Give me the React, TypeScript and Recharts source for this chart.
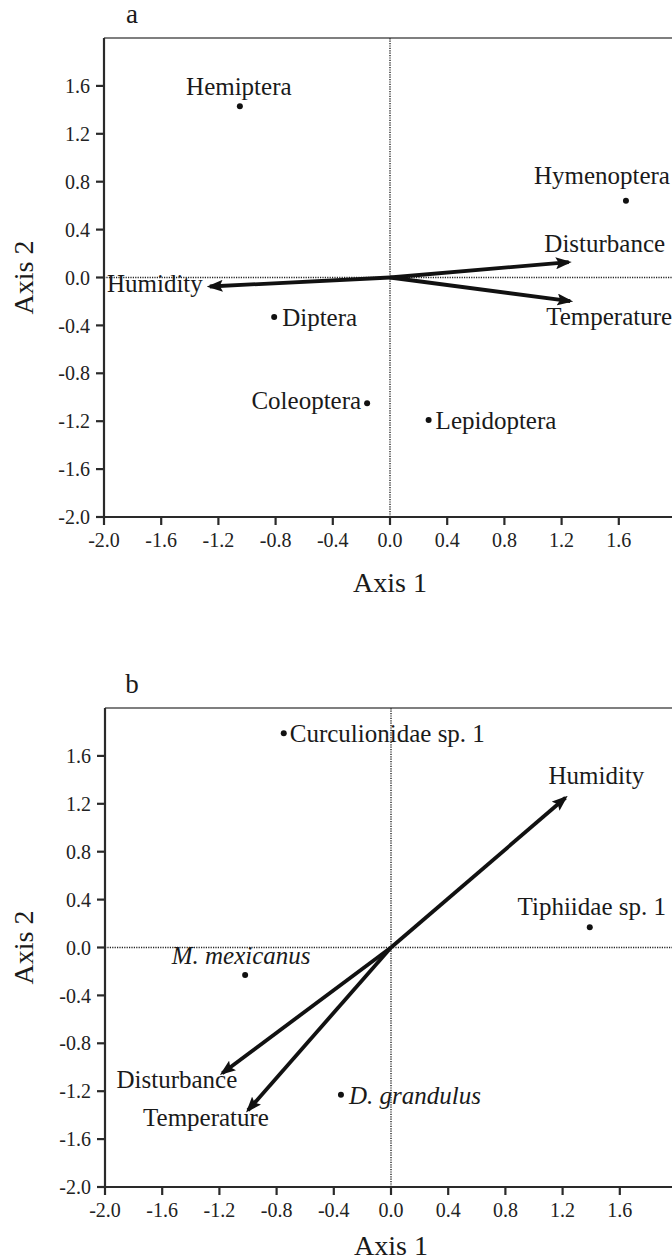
import React from 'react';
import {
  ScatterChart,
  Scatter,
  XAxis,
  YAxis,
  ReferenceLine,
  Label,
} from 'recharts';

// panel a: orders
const speciesNamesA = ['Hemiptera', 'Hymenoptera', 'Diptera', 'Coleoptera', 'Lepidoptera'];
const speciesXA = [-1.05, 1.65, -0.81, -0.16, 0.27];
const speciesYA = [1.43, 0.64, -0.33, -1.05, -1.19];

const arrowNamesA = ['Humidity', 'Disturbance', 'Temperature'];
const arrowXA = [-1.26, 1.25, 1.26];
const arrowYA = [-0.075, 0.128, -0.198];

// panel b: species
const speciesNamesB = ['Curculionidae sp. 1', 'Tiphiidae sp. 1', 'M. mexicanus', 'D. grandulus'];
const speciesXB = [-0.75, 1.39, -1.02, -0.35];
const speciesYB = [1.79, 0.17, -0.23, -1.23];

const arrowNamesB = ['Humidity', 'Disturbance', 'Temperature'];
const arrowXB = [1.22, -1.18, -1.0];
const arrowYB = [1.25, -1.05, -1.36];

const axisTicks = [-2.0, -1.6, -1.2, -0.8, -0.4, 0.0, 0.4, 0.8, 1.2, 1.6];
const italicNames = new Set(['M. mexicanus', 'D. grandulus']);

const font = "'Liberation Serif', 'Times New Roman', serif";
const ink = '#1a1a1a';

type Pt = { name: string; x: number; y: number };
type Place = { anchor: 'start' | 'middle' | 'end'; dx: number; dy: number };

const toPoints = (names: string[], xs: number[], ys: number[]): Pt[] =>
  names.map((name, i) => ({ name, x: xs[i], y: ys[i] }));

// label placement relative to the point / arrow tip
const placeA: Record<string, Place> = {
  Hemiptera: { anchor: 'middle', dx: -1, dy: -11 },
  Hymenoptera: { anchor: 'end', dx: 44, dy: -17 },
  Diptera: { anchor: 'start', dx: 8, dy: 9 },
  Coleoptera: { anchor: 'end', dx: -6, dy: 6 },
  Lepidoptera: { anchor: 'start', dx: 7, dy: 9 },
};
const arrowPlaceA: Record<string, Place> = {
  Humidity: { anchor: 'end', dx: -7, dy: 6 },
  Disturbance: { anchor: 'middle', dx: 36, dy: -10 },
  Temperature: { anchor: 'start', dx: -24, dy: 24 },
};
const placeB: Record<string, Place> = {
  'Curculionidae sp. 1': { anchor: 'start', dx: 6, dy: 9 },
  'Tiphiidae sp. 1': { anchor: 'middle', dx: 2, dy: -12 },
  'M. mexicanus': { anchor: 'middle', dx: -4, dy: -11 },
  'D. grandulus': { anchor: 'start', dx: 8, dy: 9 },
};
const arrowPlaceB: Record<string, Place> = {
  Humidity: { anchor: 'middle', dx: 31, dy: -14 },
  Disturbance: { anchor: 'end', dx: 15, dy: 15 },
  Temperature: { anchor: 'middle', dx: -42, dy: 16 },
};

const labelShape = (place: Record<string, Place>, withDot: boolean) => (props: any) => {
  const { cx, cy } = props;
  const name = props.payload?.name ?? props.name;
  const p = place[name] || { anchor: 'start', dx: 0, dy: 0 };
  return (
    <g>
      {withDot && <circle cx={cx} cy={cy} r={3} fill="#111" />}
      <text
        x={cx + p.dx}
        y={cy + p.dy}
        textAnchor={p.anchor}
        fontSize={25}
        fontFamily={font}
        fontStyle={italicNames.has(name) ? 'italic' : 'normal'}
        fill={ink}
      >
        {name}
      </text>
    </g>
  );
};

const YTitle = ({ viewBox }: any) => {
  const x = (viewBox?.x ?? 0) + 33;
  const cy = (viewBox?.y ?? 0) + (viewBox?.height ?? 0) / 2;
  return (
    <text
      x={x}
      y={cy}
      transform={`rotate(-90 ${x} ${cy})`}
      textAnchor="middle"
      fontSize={28}
      fontFamily={font}
      fill={ink}
    >
      Axis 2
    </text>
  );
};

type PanelProps = {
  species: Pt[];
  arrows: Pt[];
  place: Record<string, Place>;
  arrowPlace: Record<string, Place>;
  height: number;
  margin: { top: number; right: number; bottom: number; left: number };
  yWidth: number;
  titleOffset: number;
};

function Panel({ species, arrows, place, arrowPlace, height, margin, yWidth, titleOffset }: PanelProps) {
  return (
    <ScatterChart width={680} height={height} margin={margin}>
      <XAxis
        type="number"
        dataKey="x"
        domain={[-2, 2]}
        ticks={axisTicks}
        allowDataOverflow
        height={80}
        stroke="#2a2a2a"
        strokeWidth={2.2}
        tickSize={8}
        tickMargin={8}
        tickFormatter={(v: number) => v.toFixed(1)}
        tick={{ fontSize: 20, fill: '#222', fontFamily: font }}
      >
        <Label
          value="Axis 1"
          position="insideBottom"
          offset={titleOffset}
          fontSize={28}
          fontFamily={font}
          fill={ink}
        />
      </XAxis>
      <YAxis
        type="number"
        dataKey="y"
        domain={[-2, 2]}
        ticks={axisTicks}
        allowDataOverflow
        width={yWidth}
        stroke="#2a2a2a"
        strokeWidth={2.2}
        tickSize={8}
        tickMargin={6}
        tickFormatter={(v: number) => v.toFixed(1)}
        tick={{ fontSize: 20, fill: '#222', fontFamily: font }}
      >
        <Label content={<YTitle />} />
      </YAxis>
      <ReferenceLine y={2} stroke="#555" strokeWidth={1.6} />
      <ReferenceLine x={2} stroke="#555" strokeWidth={1.6} />
      <ReferenceLine x={0} stroke="#222" strokeWidth={1.4} strokeDasharray="1.2 1.2" />
      <ReferenceLine y={0} stroke="#222" strokeWidth={1.4} strokeDasharray="1.2 1.2" />
      {arrows.map((a) => (
        <ReferenceLine
          key={a.name}
          segment={[
            { x: 0, y: 0 },
            { x: a.x, y: a.y },
          ]}
          stroke="#111"
          strokeWidth={3.8}
          markerEnd="url(#arrowHead)"
        />
      ))}
      <Scatter
        data={arrows}
        isAnimationActive={false}
        shape={labelShape(arrowPlace, false)}
      />
      <Scatter
        data={species}
        isAnimationActive={false}
        shape={labelShape(place, true)}
      />
    </ScatterChart>
  );
}

export default function App() {
  const speciesA = toPoints(speciesNamesA, speciesXA, speciesYA);
  const arrowsA = toPoints(arrowNamesA, arrowXA, arrowYA);
  const speciesB = toPoints(speciesNamesB, speciesXB, speciesYB);
  const arrowsB = toPoints(arrowNamesB, arrowXB, arrowYB);

  return (
    <div
      style={{
        position: 'absolute',
        left: 0,
        top: 0,
        width: 672,
        height: 1260,
        overflow: 'hidden',
        background: '#fff',
      }}
    >
      <svg width={0} height={0} style={{ position: 'absolute' }}>
        <defs>
          <marker
            id="arrowHead"
            viewBox="0 0 16 12"
            refX={13}
            refY={6}
            markerWidth={16}
            markerHeight={12}
            markerUnits="userSpaceOnUse"
            orient="auto"
          >
            <path d="M0,0 L16,6 L0,12 L3,6 Z" fill="#111" />
          </marker>
        </defs>
      </svg>
      <div style={{ position: 'absolute', left: 0, top: 0 }}>
        <Panel
          species={speciesA}
          arrows={arrowsA}
          place={placeA}
          arrowPlace={arrowPlaceA}
          height={630}
          margin={{ top: 38, right: 4, bottom: 33, left: 0 }}
          yWidth={104}
          titleOffset={5}
        />
      </div>
      <div style={{ position: 'absolute', left: 0, top: 630 }}>
        <Panel
          species={speciesB}
          arrows={arrowsB}
          place={placeB}
          arrowPlace={arrowPlaceB}
          height={640}
          margin={{ top: 78, right: 3, bottom: 3, left: 0 }}
          yWidth={105}
          titleOffset={12}
        />
      </div>
      <svg
        width={672}
        height={1260}
        style={{ position: 'absolute', left: 0, top: 0, pointerEvents: 'none' }}
      >
        <text x={132} y={23} textAnchor="middle" fontSize={27} fontFamily={font} fill={ink}>
          a
        </text>
        <text x={132} y={693} textAnchor="middle" fontSize={27} fontFamily={font} fill={ink}>
          b
        </text>
      </svg>
    </div>
  );
}
